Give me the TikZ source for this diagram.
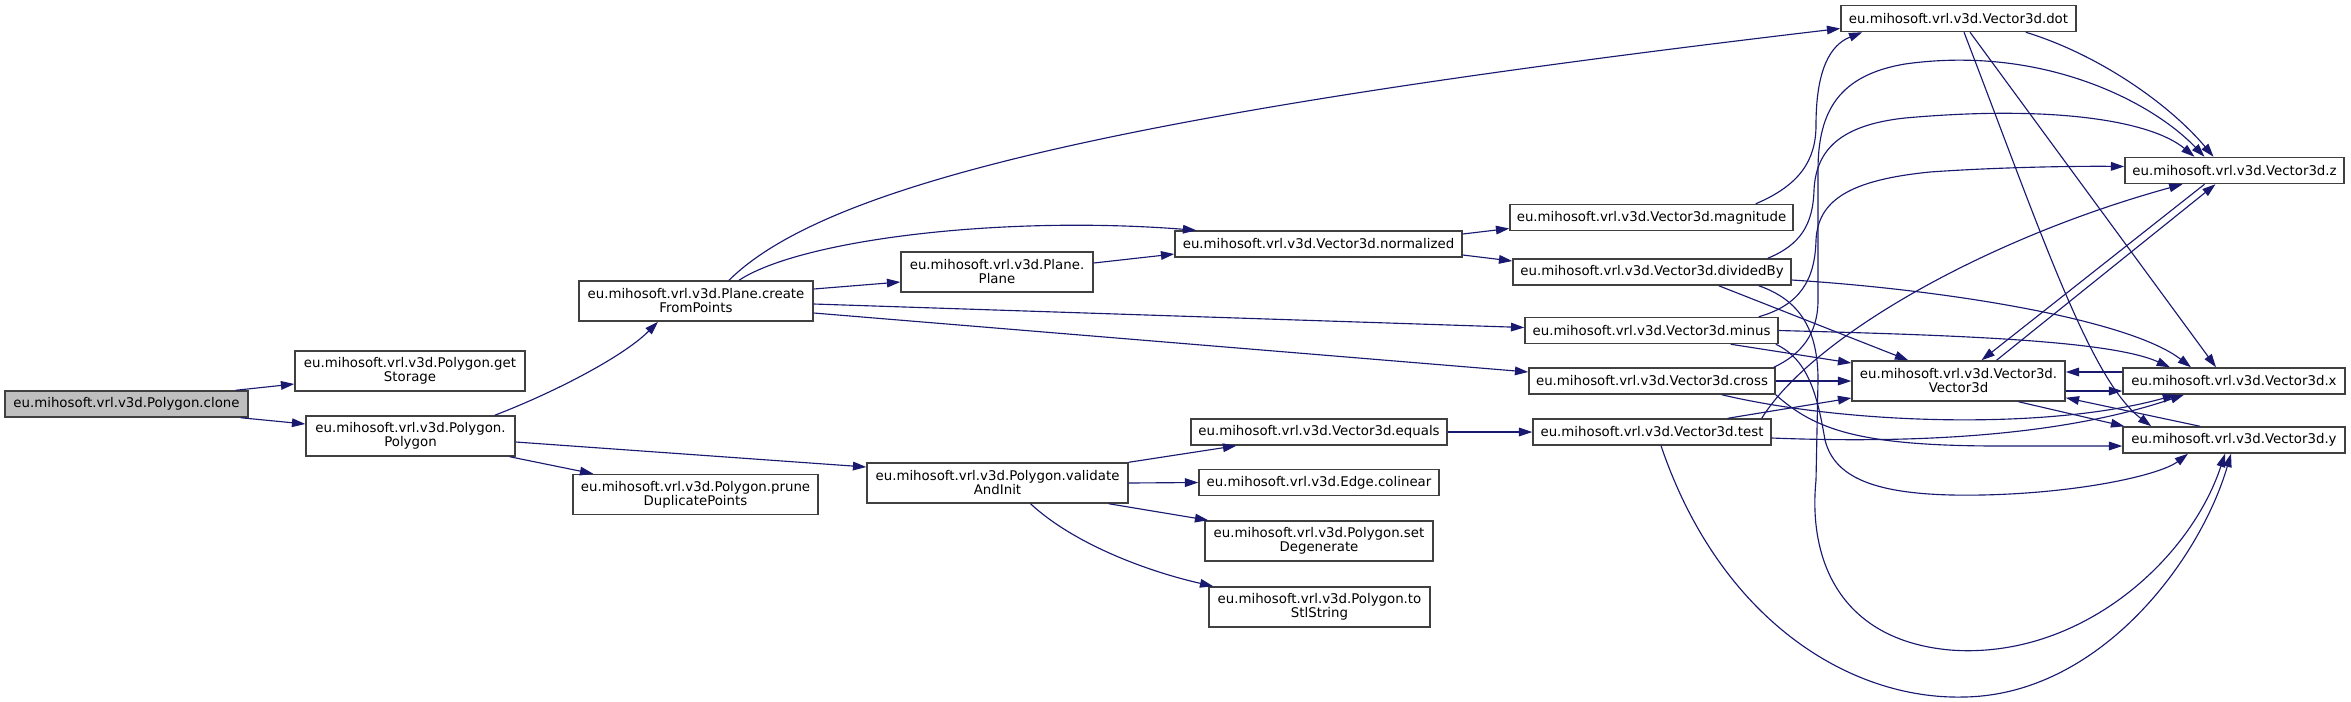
\documentclass[tikz,border=0pt]{standalone}
\usepackage{fontspec}
\setmainfont{DejaVu Sans}
\usetikzlibrary{arrows.meta,calc}
\definecolor{edgec}{HTML}{191970}
\definecolor{nodeb}{HTML}{404040}
\definecolor{graynode}{HTML}{BFBFBF}
\begin{document}
\begin{tikzpicture}[x=0.75pt,y=-0.75pt,
  nbox/.style={draw=nodeb,line width=1.1pt,fill=white,inner sep=0pt,align=center,
    font=\fontsize{10pt}{10.5pt}\selectfont,minimum height=19.5pt},
  tall/.style={minimum height=30pt},
  edge/.style={draw=edgec,line width=0.85pt,-{Triangle[length=10pt,width=6.5pt]}}]
\useasboundingbox (0,0) rectangle (2351,701);
% nodes
\node[nbox,fill=graynode,minimum width=182.25pt] (clone) at (126.5,404) {eu.mihosoft.vrl.v3d.Polygon.clone};
\node[nbox,tall,minimum width=172.5pt] (getStorage) at (410,371) {eu.mihosoft.vrl.v3d.Polygon.get\\Storage};
\node[nbox,tall,minimum width=156.75pt] (Polygon) at (410.5,436) {eu.mihosoft.vrl.v3d.Polygon.\\Polygon};
\node[nbox,tall,minimum width=175.5pt] (cfp) at (696,301) {eu.mihosoft.vrl.v3d.Plane.create\\FromPoints};
\node[nbox,tall,minimum width=183.75pt] (prune) at (695.5,494.5) {eu.mihosoft.vrl.v3d.Polygon.prune\\DuplicatePoints};
\node[nbox,tall,minimum width=144pt] (Plane) at (997,272) {eu.mihosoft.vrl.v3d.Plane.\\Plane};
\node[nbox,tall,minimum width=195.75pt] (validate) at (997.5,483) {eu.mihosoft.vrl.v3d.Polygon.validate\\AndInit};
\node[nbox,minimum width=215.25pt] (normalized) at (1318.5,244) {eu.mihosoft.vrl.v3d.Vector3d.normalized};
\node[nbox,minimum width=192pt] (equals) at (1319,432) {eu.mihosoft.vrl.v3d.Vector3d.equals};
\node[nbox,minimum width=180pt] (colinear) at (1319,482.5) {eu.mihosoft.vrl.v3d.Edge.colinear};
\node[nbox,tall,minimum width=171pt] (setDeg) at (1319,541) {eu.mihosoft.vrl.v3d.Polygon.set\\Degenerate};
\node[nbox,tall,minimum width=165.75pt] (toStl) at (1319.5,607) {eu.mihosoft.vrl.v3d.Polygon.to\\StlString};
\node[nbox,minimum width=212.25pt] (magnitude) at (1651.5,217.5) {eu.mihosoft.vrl.v3d.Vector3d.magnitude};
\node[nbox,minimum width=208.5pt] (dividedBy) at (1652,272) {eu.mihosoft.vrl.v3d.Vector3d.dividedBy};
\node[nbox,minimum width=189.75pt] (minus) at (1651.5,330.5) {eu.mihosoft.vrl.v3d.Vector3d.minus};
\node[nbox,minimum width=184.5pt] (cross) at (1652,381) {eu.mihosoft.vrl.v3d.Vector3d.cross};
\node[nbox,minimum width=178.5pt] (test) at (1652,432) {eu.mihosoft.vrl.v3d.Vector3d.test};
\node[nbox,minimum width=176.25pt] (dot) at (1958.5,18.5) {eu.mihosoft.vrl.v3d.Vector3d.dot};
\node[nbox,tall,minimum width=159.75pt] (Vector3d) at (1958.5,381) {eu.mihosoft.vrl.v3d.Vector3d.\\Vector3d};
\node[nbox,minimum width=164.25pt] (z) at (2234.5,170.5) {eu.mihosoft.vrl.v3d.Vector3d.z};
\node[nbox,minimum width=166.5pt] (x) at (2234,381) {eu.mihosoft.vrl.v3d.Vector3d.x};
\node[nbox,minimum width=166.5pt] (y) at (2234,440) {eu.mihosoft.vrl.v3d.Vector3d.y};
% left edges
\draw[edge] ($(clone.north east)+(-13,0)$) -- ($(getStorage.west)+(0,13)$);
\draw[edge] ($(clone.south east)+(-8,0)$) -- ($(Polygon.west)+(0,-12)$);
\draw[edge] ($(Polygon.north east)+(-21,0)$) .. controls (560,390) and (625,355) .. ($(cfp.south)+(-38,0)$);
\draw[edge] ($(Polygon.south east)+(-6,0)$) -- ($(prune.north west)+(21,0)$);
\draw[edge] ($(Polygon.east)+(0,6)$) -- ($(validate.west)+(0,-16)$);
\draw[edge] ($(cfp.east)+(0,-12)$) -- ($(Plane.west)+(0,10)$);
\draw[edge] ($(cfp.north)+(43,0)$) .. controls (800,240) and (1000,215) .. ($(normalized.north west)+(22,0)$);
\draw[edge] ($(cfp.north)+(33,0)$) .. controls (830,180) and (1150,110) .. ($(dot.west)+(0,10)$);
\draw[edge] ($(Plane.east)+(0,-9)$) -- ($(normalized.west)+(0,10)$);
\draw[edge] ($(normalized.east)+(0,-10)$) -- ($(magnitude.west)+(0,11)$);
\draw[edge] ($(normalized.east)+(0,11)$) -- ($(dividedBy.west)+(0,-11)$);
\draw[edge] ($(cfp.east)+(0,3)$) -- ($(minus.west)+(0,-3)$);
\draw[edge] ($(cfp.east)+(0,12)$) -- ($(cross.west)+(0,-9)$);
\draw[edge] (equals.east) -- (test.west);
\draw[edge] (validate.north east) -- ($(equals.south west)+(46,0)$);
\draw[edge] (validate.east) -- (colinear.west);
\draw[edge] ($(validate.south east)+(-20,0)$) -- ($(setDeg.north west)+(4,0)$);
\draw[edge] ($(validate.south)+(33,0)$) .. controls (1075,545) and (1150,572) .. ($(toStl.north west)+(5,0)$);
% right cluster
\draw[edge] ($(magnitude.north east)+(-38,0)$) .. controls (1800,185) and (1816,160) .. (1816,125) .. controls (1816,70) and (1830,45) .. ($(dot.south west)+(22,0)$);
\draw[edge] ($(dot.south east)+(-51,0)$) .. controls (2100,55) and (2170,105) .. ($(z.north)+(-21,0)$);
\draw[edge] ($(dot.south)+(5.5,0)$) .. controls (2040,230) and (2090,380) .. ($(y.north west)+(29,0)$);
\draw[edge] ($(dot.south)+(11.5,0)$) -- ($(x.north)+(-18,0)$);
\draw[edge] ($(dividedBy.north east)+(-24,0)$) .. controls (1800,245) and (1813,225) .. (1814,190) .. controls (1816,150) and (1840,125) .. (1905,118) .. controls (2050,105) and (2150,120) .. ($(z.north)+(-40,0)$);
\draw[edge] ($(cross.north east)+(-2,0)$) .. controls (1800,355) and (1818,335) .. (1818,300) -- (1818,170) .. controls (1818,110) and (1840,75) .. (1905,64) .. controls (2040,45) and (2150,100) .. ($(z.north)+(-30,0)$);
\draw[edge] ($(minus.north east)+(-20,0)$) .. controls (1800,305) and (1815,280) .. (1816,240) .. controls (1818,200) and (1850,180) .. (1930,172) .. controls (2000,167) and (2080,166) .. ($(z.west)+(0,-4)$);
\draw[edge] ($(test.north east)+(-10,0)$) .. controls (1810,340) and (1980,240) .. ($(z.south)+(-52,0)$);
\draw[edge] ($(Vector3d.north)+(38,0)$) -- ($(z.south)+(-19,0)$);
\draw[edge] ($(z.south)+(-30,0)$) -- ($(Vector3d.north)+(23,0)$);
\draw[edge] ($(x.west)+(0,-9)$) -- ($(Vector3d.east)+(0,-9)$);
\draw[edge] ($(Vector3d.east)+(0,10)$) -- ($(x.west)+(0,10)$);
\draw[edge] ($(y.north)+(-34,0)$) -- ($(Vector3d.south east)+(0,-4)$);
\draw[edge] ($(Vector3d.south)+(60,0)$) -- ($(y.north west)+(2,0)$);
\draw[edge] (cross.east) -- (Vector3d.west);
\draw[edge] ($(cross.south east)+(-54,0)$) .. controls (1850,425) and (2050,430) .. ($(x.south)+(-58,0)$);
\draw[edge] (cross.south east) .. controls (1815,430) and (1860,446) .. (2000,446) -- ($(y.west)+(0,6)$);
\draw[edge] ($(test.north east)+(-44,0)$) -- ($(Vector3d.west)+(0,17)$);
\draw[edge] ($(test.east)+(0,6)$) .. controls (1950,445) and (2080,430) .. ($(x.south)+(-50,0)$);
\draw[edge] ($(test.south)+(9,0)$) .. controls (1720,620) and (1850,700) .. (1964,697) .. controls (2100,695) and (2200,560) .. ($(y.south)+(-3,0)$);
\draw[edge] ($(dividedBy.south east)+(-73,0)$) -- ($(Vector3d.north west)+(57,0)$);
\draw[edge] ($(dividedBy.east)+(0,8)$) .. controls (1950,290) and (2130,320) .. ($(x.north)+(-43,0)$);
\draw[edge] ($(dividedBy.south east)+(-33,0)$) .. controls (1800,300) and (1818,330) .. (1818,380) -- (1816,480) .. controls (1808,560) and (1840,640) .. (1950,650) .. controls (2080,660) and (2190,560) .. ($(y.south)+(-9,0)$);
\draw[edge] ($(minus.south east)+(-48,0)$) -- ($(Vector3d.west)+(0,-18)$);
\draw[edge] (minus.east) .. controls (1950,335) and (2110,340) .. ($(x.north)+(-64,0)$);
\draw[edge] ($(minus.south east)+(-3,0)$) .. controls (1810,360) and (1818,400) .. (1825,440) .. controls (1835,480) and (1880,497) .. (1982,495) .. controls (2080,493) and (2160,475) .. ($(y.south)+(-46,0)$);
\end{tikzpicture}
\end{document}
